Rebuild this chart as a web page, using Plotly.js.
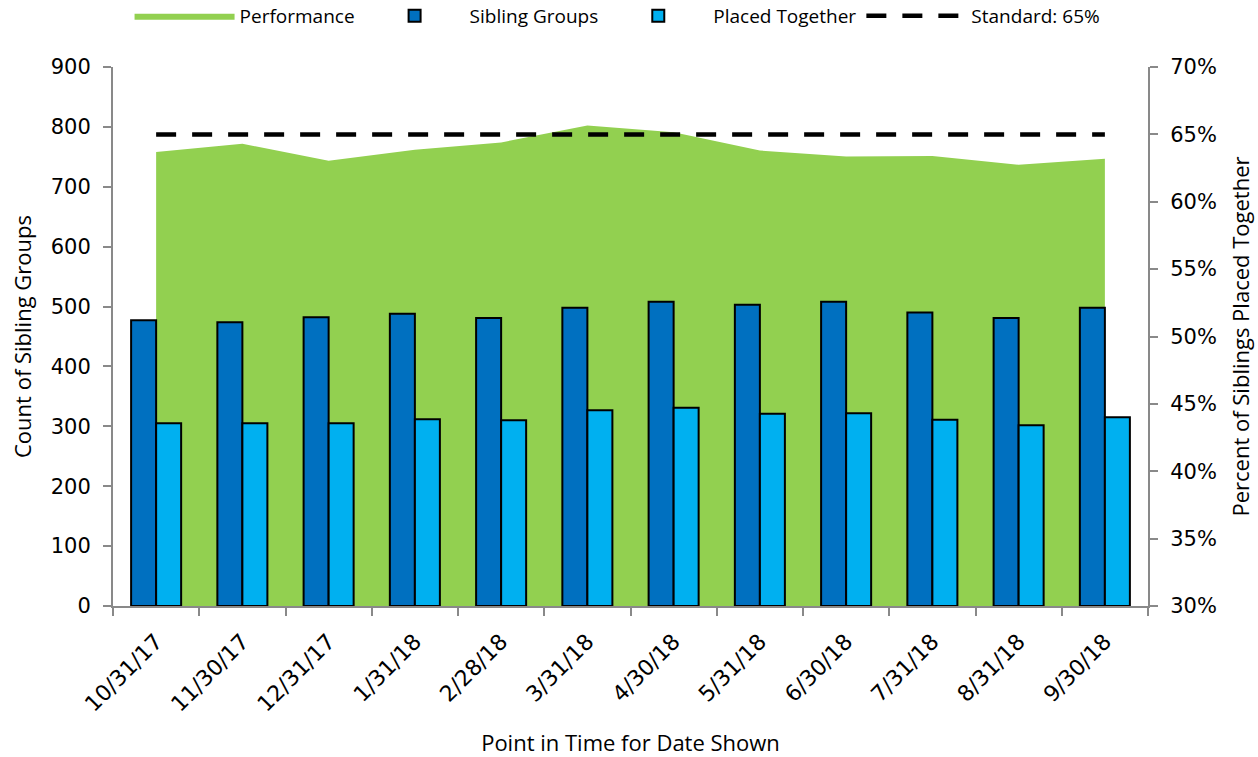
<!DOCTYPE html>
<html>
<head>
<meta charset="utf-8">
<script src="https://cdn.plot.ly/plotly-3.0.1.min.js"></script>
<style>html,body{margin:0;padding:0;background:#fff;}#chart{width:1258px;height:757px;}</style>
</head>
<body>
<div id="chart"></div>
<script>
const dates = ["10/31/17","11/30/17","12/31/17","1/31/18","2/28/18","3/31/18","4/30/18","5/31/18","6/30/18","7/31/18","8/31/18","9/30/18"];
const siblingGroups = [477, 474, 482, 488, 481, 498, 508, 503, 508, 490, 481, 498];
const placedTogether = [305, 305, 305, 312, 310, 327, 331, 321, 322, 311, 302, 315];
const performance = [63.7, 64.3, 63.05, 63.85, 64.4, 65.65, 65.15, 63.8, 63.35, 63.4, 62.75, 63.2];
const standard = [65, 65, 65, 65, 65, 65, 65, 65, 65, 65, 65, 65];

const axisGray = '#898989';
const tickFont = {family: 'DejaVu Sans', size: 21, color: '#000'};
const xTickFont = {family: 'DejaVu Sans', size: 22, color: '#000'};
const titleFont = {family: 'Open Sans', size: 22, color: '#000'};

const traces = [
  {
    type: 'scatter', mode: 'lines', name: 'Performance',
    x: dates, y: performance, yaxis: 'y',
    fill: 'tozeroy', fillcolor: '#92D050',
    line: {width: 0, color: '#92D050'}, legendrank: 1
  },
  {
    type: 'scatter', mode: 'lines', name: 'Standard: 65%',
    x: dates, y: standard, yaxis: 'y',
    line: {color: '#000', width: 4.5, dash: '20px,16px'}, legendrank: 4
  },
  {
    type: 'bar', name: 'Sibling Groups', x: dates, y: siblingGroups, yaxis: 'y2',
    marker: {color: '#0070C0', line: {color: '#000', width: 2}}, legendrank: 2
  },
  {
    type: 'bar', name: 'Placed Together', x: dates, y: placedTogether, yaxis: 'y2',
    marker: {color: '#00B0F0', line: {color: '#000', width: 2}}, legendrank: 3
  }
];

const layout = {
  width: 1258, height: 757,
  margin: {l: 113, r: 110, t: 67, b: 151, autoexpand: false},
  paper_bgcolor: '#fff', plot_bgcolor: 'rgba(0,0,0,0)',
  barmode: 'group', bargap: 0.42, bargroupgap: 0,
  showlegend: true,
  legend: {
    orientation: 'h', x: 0.016, xanchor: 'left', y: 1.095, yanchor: 'middle',
    font: {family: 'Open Sans', size: 19, color: '#000'},
    traceorder: 'normal', itemwidth: 100
  },
  xaxis: {
    type: 'category', range: [-0.5, 11.5],
    showline: true, linecolor: axisGray, linewidth: 2,
    ticks: 'outside', tickson: 'boundaries', ticklen: 8, tickcolor: axisGray, tickwidth: 2,
    tickangle: -45, tickfont: xTickFont, showgrid: false, zeroline: false, ticklabelstandoff: 12,
    title: {text: 'Point in Time for Date Shown', font: titleFont, standoff: 22}
  },
  yaxis: {
    side: 'right', range: [30, 70], dtick: 5, ticksuffix: '%',
    showline: true, linecolor: axisGray, linewidth: 2,
    ticks: 'outside', ticklen: 8, tickcolor: axisGray, tickwidth: 2,
    tickfont: tickFont, showgrid: false, zeroline: false, ticklabelstandoff: 8,
    title: {text: 'Percent of Siblings Placed Together', font: titleFont, standoff: 18}
  },
  yaxis2: {
    overlaying: 'y', side: 'left', range: [0, 900], dtick: 100,
    showline: true, linecolor: axisGray, linewidth: 2,
    ticks: 'outside', ticklen: 8, tickcolor: axisGray, tickwidth: 2,
    tickfont: tickFont, showgrid: false, zeroline: false, ticklabelstandoff: 8,
    title: {text: 'Count of Sibling Groups', font: titleFont, standoff: 13}
  }
};

Plotly.newPlot('chart', traces, layout, {displayModeBar: false, staticPlot: true});
</script>
</body>
</html>
